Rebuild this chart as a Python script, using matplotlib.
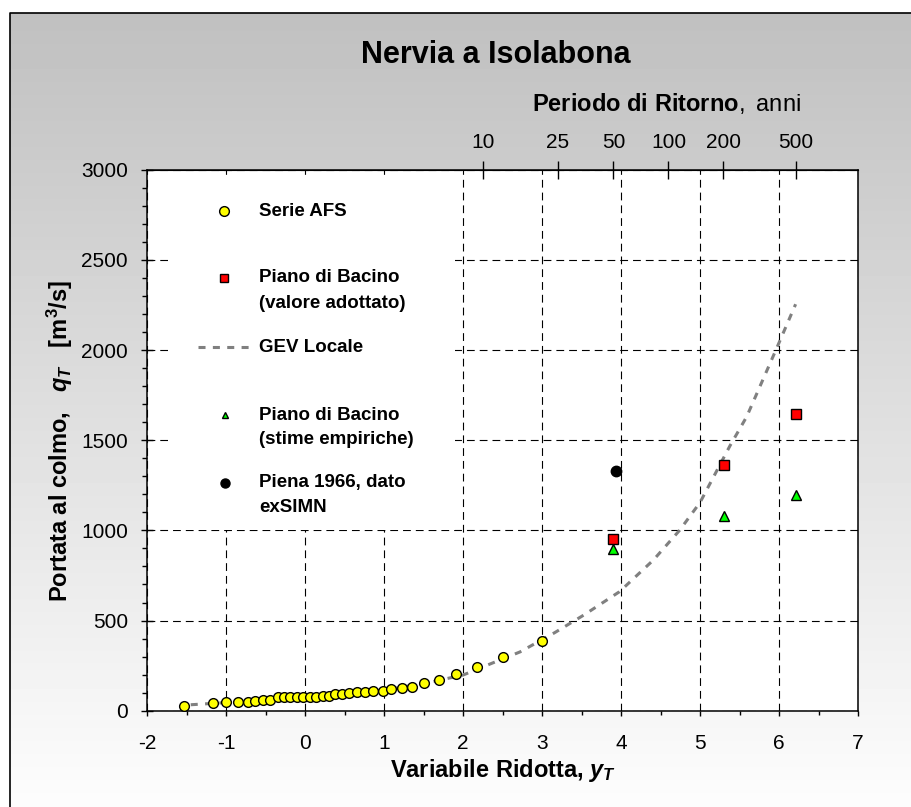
import numpy as np
import matplotlib.pyplot as plt
from matplotlib.ticker import NullLocator
from matplotlib.patches import Rectangle

plt.rcParams['font.family'] = 'Liberation Sans'
plt.rcParams['axes.unicode_minus'] = False
plt.rcParams['mathtext.fontset'] = 'custom'
plt.rcParams['mathtext.it'] = 'Liberation Sans:bold:italic'
plt.rcParams['mathtext.rm'] = 'Liberation Sans:bold'
plt.rcParams['mathtext.bf'] = 'Liberation Sans:bold'
plt.rcParams['mathtext.sf'] = 'Liberation Sans'

# serie AFS (variabile ridotta, portata al colmo)
afs_y = [-1.53, -1.17, -1.00, -0.85, -0.73, -0.63, -0.53, -0.44, -0.35, -0.27, -0.19,
         -0.11, -0.03, 0.06, 0.14, 0.22, 0.30, 0.38, 0.46, 0.56, 0.66, 0.76, 0.86,
         0.98, 1.09, 1.22, 1.35, 1.51, 1.70, 1.91, 2.17, 2.50, 3.00]
afs_q = [28, 41, 47, 47, 47, 54, 61, 59, 76, 76, 76, 76, 76, 76, 76, 83, 83, 91, 91,
         96, 104, 104, 111, 111, 118, 126, 133, 155, 168, 205, 241, 300, 385]

# piano di bacino
pdb_y = [3.90, 5.30, 6.21]
pdb_adott = [950, 1365, 1645]
pdb_emp = [895, 1080, 1195]

# piena 1966 exSIMN
piena_y = [3.94]
piena_q = [1330]

# curva GEV locale
gev_y = [-1.45, -1.0, -0.5, 0.0, 0.5, 1.0, 1.5, 2.0, 2.38, 2.72, 3.16, 3.53, 3.98,
         4.41, 4.74, 5.00, 5.38, 5.59, 5.97, 6.21]
gev_q = [33, 45, 58, 72, 92, 115, 150, 198, 266, 326, 433, 531, 660,
         836, 1000, 1155, 1470, 1630, 2010, 2254]

T_ticks = [10, 25, 50, 100, 200, 500]

W, H = 911, 807
fig = plt.figure(figsize=(W / 100, H / 100), dpi=100)

# sfondo sfumato con cornice
bg = fig.add_axes([0, 0, 1, 1], zorder=-10)
grad = np.linspace(192, 253, 256) / 255.
bg.imshow(np.tile(grad[:, None], (1, 2)), cmap='gray', vmin=0, vmax=1,
          extent=[10, W, H, 13], aspect='auto', interpolation='bilinear')
bg.plot([10, 10, W], [H, 13, 13], color='k', lw=1.2)
bg.set_xlim(0, W)
bg.set_ylim(H, 0)
bg.axis('off')

ax = fig.add_axes([147.3 / W, 1 - 710.7 / H, 710.7 / W, 541 / H])
ax.set_facecolor('white')

ax.plot(gev_y, gev_q, color='#808080', lw=2.2, ls=(0, (2.3, 2.4)), dash_capstyle='butt', zorder=2)
ax.plot(afs_y, afs_q, 'o', mfc='#ffff00', mec='k', mew=1, ms=7, zorder=3)
ax.plot(pdb_y, pdb_adott, 's', mfc='#ff0000', mec='k', mew=1, ms=7.5, zorder=3)
ax.plot(pdb_y, pdb_emp, '^', mfc='#00ff00', mec='k', mew=1, ms=6.5, zorder=3)
ax.plot(piena_y, piena_q, 'o', mfc='k', mec='k', ms=7.5, zorder=3)

ax.set_xlim(-2, 7)
ax.set_ylim(0, 3000)
ax.set_xticks(range(-2, 8))
ax.set_xticks(np.arange(-1.5, 7, 1), minor=True)
ax.set_yticks(range(0, 3001, 500))
ax.set_yticks(range(0, 3001, 100), minor=True)
ax.grid(True, which='major', color='k', lw=0.8, ls=(0, (7, 4.5)))
ax.set_axisbelow(True)
ax.tick_params(axis='x', which='major', direction='out', length=3.6, width=1, labelsize=15, pad=13)
ax.tick_params(axis='x', which='minor', direction='out', length=3, width=1)
ax.tick_params(axis='y', which='major', direction='inout', length=8, width=1, labelsize=15, pad=10)
ax.tick_params(axis='y', which='minor', direction='out', length=3.6, width=1)
for s in ax.spines.values():
    s.set_linewidth(1.1)


def y2T(y):
    with np.errstate(all='ignore'):
        return 1. / (1. - np.exp(-np.exp(-np.asarray(y, float))))


def T2y(T):
    with np.errstate(all='ignore'):
        return -np.log(-np.log(1. - 1. / np.asarray(T, float)))


secax = ax.secondary_xaxis('top', functions=(y2T, T2y))
secax.set_xticks(T_ticks)
secax.set_xticklabels([str(t) for t in T_ticks])
secax.xaxis.set_minor_locator(NullLocator())
secax.tick_params(direction='inout', length=13.5, width=1, labelsize=15, pad=6)

# legenda
def fx(px):
    return (px - 147.3) / 710.7


def fy(py):
    return (710.7 - py) / 541.


ax.add_patch(Rectangle((fx(168), fy(530)), fx(455) - fx(168), fy(179) - fy(530),
                       transform=ax.transAxes, facecolor='white', edgecolor='none', zorder=1))

kw = dict(transform=ax.transAxes, clip_on=False, zorder=4)
tk = dict(transform=ax.transAxes, fontsize=13.5, fontweight='bold', va='center', zorder=4)
ax.plot([fx(224)], [fy(211)], 'o', mfc='#ffff00', mec='k', mew=1, ms=7, **kw)
ax.text(fx(259), fy(211), 'Serie AFS', **tk)
ax.plot([fx(224)], [fy(278)], 's', mfc='#ff0000', mec='k', mew=1, ms=6, **kw)
ax.text(fx(259), fy(278), 'Piano di Bacino', **tk)
ax.text(fx(259), fy(303), '(valore adottato)', **tk)
ax.plot([fx(198), fx(252)], [fy(347), fy(347)], color='#808080', lw=2.2,
        ls=(0, (2.3, 2.4)), dash_capstyle='butt', **kw)
ax.text(fx(259), fy(347), 'GEV Locale', **tk)
ax.plot([fx(225)], [fy(415)], '^', mfc='#00ff00', mec='k', mew=1, ms=5, **kw)
ax.text(fx(259), fy(415), 'Piano di Bacino', **tk)
ax.text(fx(259), fy(439), '(stime empiriche)', **tk)
ax.plot([fx(225)], [fy(483)], 'o', mfc='k', mec='k', ms=6.5, **kw)
ax.text(fx(259), fy(483), 'Piena 1966, dato', **tk)
ax.text(fx(259), fy(507), 'exSIMN', **tk)

# titoli ed etichette
fig.text(496 / W, 1 - 55 / H, 'Nervia a Isolabona', fontsize=22, fontweight='bold',
         ha='center', va='center')
fig.text(666 / W, 1 - 103 / H, r'Periodo di Ritorno$\mathsf{,\ anni}$', fontsize=17,
         fontweight='bold', ha='center', va='center')
fig.text(502.6 / W, 1 - 770 / H, r'Variabile Ridotta, $y_T$', fontsize=17,
         fontweight='bold', ha='center', va='center')
fig.text(60 / W, 1 - 441 / H, r'Portata al colmo,   $q_T$   [m$^3$/s]', fontsize=17,
         fontweight='bold', ha='center', va='center', rotation=90)

fig.savefig('out.png', dpi=100)
